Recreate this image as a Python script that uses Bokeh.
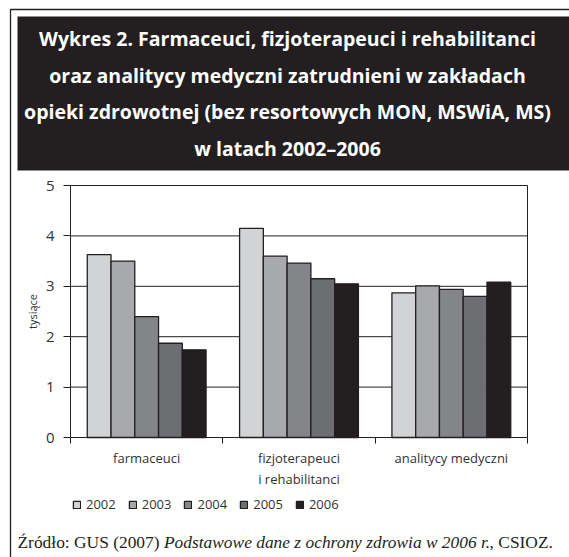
from bokeh.plotting import figure
from bokeh.models import (Range1d, FixedTicker, Legend, LegendItem, LinearAxis,
                          ColumnDataSource)
from bokeh.core.properties import value
from bokeh.embed import file_html
from bokeh.resources import INLINE

# ---------------- data ----------------
categories = ["farmaceuci", "fizjoterapeuci\ni rehabilitanci", "analitycy medyczni"]
years = ["2002", "2003", "2004", "2005", "2006"]
v2002 = [3.63, 4.15, 2.87]
v2003 = [3.50, 3.60, 3.01]
v2004 = [2.40, 3.46, 2.94]
v2005 = [1.87, 3.15, 2.80]
v2006 = [1.74, 3.05, 3.08]
series = [v2002, v2003, v2004, v2005, v2006]
colors = ["#d1d3d4", "#a7a9ac", "#848588", "#6d6e71", "#231f20"]
y_ticks = [0, 1, 2, 3, 4, 5]
y_max = 5
title_lines = [
    "Wykres 2. Farmaceuci, fizjoterapeuci i rehabilitanci",
    "oraz analitycy medyczni zatrudnieni w zakładach",
    "opieki zdrowotnej (bez resortowych MON, MSWiA, MS)",
    "w latach 2002–2006",
]
source_parts = ["Źródło: GUS (2007)", "Podstawowe dane z ochrony zdrowia w 2006 r.", ", CSIOZ."]

# ---------------- layout (page pixels) ----------------
W, H = 569, 557
PL, PR, PT, PB = 70, 527, 185, 437       # plot area box
DARK = "#231f20"
TXT = "#333333"
ncat = len(categories)

xppu = (PR - PL) / ncat
yppu = (PB - PT) / y_max
x_range = Range1d(-PL / xppu, ncat + (W - PR) / xppu)
y_range = Range1d(-(H - PB) / yppu, y_max + PT / yppu)

p = figure(width=W, height=H, x_range=x_range, y_range=y_range,
           output_backend="svg", toolbar_location=None,
           x_axis_location=None, y_axis_location=None,
           min_border=0, min_border_left=0, min_border_right=0,
           min_border_top=0, min_border_bottom=0)
p.background_fill_color = "white"
p.border_fill_color = "white"
p.outline_line_color = None
p.grid.visible = False
# pixel-space range for decorations (page coords, y downward)
p.extra_x_ranges = {"px": Range1d(0, W)}
p.extra_y_ranges = {"px": Range1d(H, 0)}

# outer frame + title box
p.quad(left=[10], right=[W + 20], top=[9], bottom=[H + 20],
       x_range_name="px", y_range_name="px",
       fill_alpha=0, line_color=DARK, line_width=1.3)
p.quad(left=[17], right=[W + 20], top=[16], bottom=[170],
       x_range_name="px", y_range_name="px",
       fill_color=DARK, line_color=None)
title_src = ColumnDataSource(dict(
    x=[287] * len(title_lines),
    y=[38 + k * 36.7 for k in range(len(title_lines))],
    text=title_lines))
p.text(x="x", y="y", text="text", source=title_src,
       x_range_name="px", y_range_name="px",
       text_align="center", text_baseline="middle", text_color="white",
       text_font=value("Open Sans"), text_font_style="bold", text_font_size="19.5px")

# grid lines (incl. top border) and right border of plot area
grid_y = [t for t in y_ticks if t > 0]
p.segment(x0=[0] * len(grid_y), x1=[ncat] * len(grid_y), y0=grid_y, y1=grid_y,
          line_color=DARK, line_width=1)
p.segment(x0=[ncat], x1=[ncat], y0=[0], y1=[y_max], line_color=DARK, line_width=1)

# bars
BW = 0.156
legend_items = []
for j, (yr, vals, col) in enumerate(zip(years, series, colors)):
    xs = [i + 0.5 + (j - 2) * BW for i in range(ncat)]
    src = ColumnDataSource(dict(x=xs, top=vals))
    r = p.vbar(x="x", top="top", width=BW, bottom=0, source=src,
               fill_color=col, line_color=DARK, line_width=1.3)
    legend_items.append(LegendItem(label=yr, renderers=[r]))

# y axis
ya = LinearAxis(fixed_location=0, bounds=(0, y_max), ticker=FixedTicker(ticks=y_ticks))
ya.major_tick_out = 7
ya.major_tick_in = 0
ya.minor_tick_line_color = None
ya.axis_line_color = DARK
ya.major_tick_line_color = DARK
ya.major_label_text_font = "Open Sans"
ya.major_label_text_font_size = "15px"
ya.major_label_text_color = TXT
ya.major_label_standoff = 9
ya.axis_label = "tysiące"
ya.axis_label_text_font = "Open Sans"
ya.axis_label_text_font_size = "11px"
ya.axis_label_text_font_style = "normal"
ya.axis_label_text_color = TXT
ya.axis_label_standoff = 3
p.add_layout(ya, "left")

# x axis: labels at category centres, ticks at boundaries (minor ticks)
xa = LinearAxis(fixed_location=0, bounds=(0, ncat),
                ticker=FixedTicker(ticks=[i + 0.5 for i in range(ncat)],
                                   minor_ticks=list(range(ncat + 1))))
xa.major_label_overrides = {i + 0.5: c for i, c in enumerate(categories)}
xa.major_tick_line_color = None
xa.major_tick_out = 0
xa.major_tick_in = 0
xa.minor_tick_out = 6
xa.minor_tick_in = 0
xa.minor_tick_line_color = DARK
xa.axis_line_color = DARK
xa.major_label_text_font = "Open Sans"
xa.major_label_text_font_size = "13px"
xa.major_label_text_color = TXT
xa.major_label_standoff = 5
p.add_layout(xa, "below")

# legend (screen units from bottom-left of the frame = canvas)
legend = Legend(items=legend_items, orientation="horizontal",
                location=(72, H - 513), glyph_width=9, glyph_height=9,
                label_standoff=5, spacing=12, padding=0, margin=0,
                label_text_font="Open Sans", label_text_font_size="13px",
                label_text_color=TXT, border_line_color=None,
                background_fill_alpha=0)
p.add_layout(legend, "center")

# source line
fs = 17.4
src_x = [17, 17 + 8.416 * fs, 17 + (8.416 + 18.945) * fs - 4]
styles = ["normal", "italic", "normal"]
for t, x0, st in zip(source_parts, src_x, styles):
    p.text(x=[x0], y=[541], text=[t], x_range_name="px", y_range_name="px",
           text_align="left", text_baseline="middle", text_color=DARK,
           text_font=value("Liberation Serif"), text_font_style=st,
           text_font_size=f"{fs}px")

open("out.html", "w").write(file_html(p, INLINE))
